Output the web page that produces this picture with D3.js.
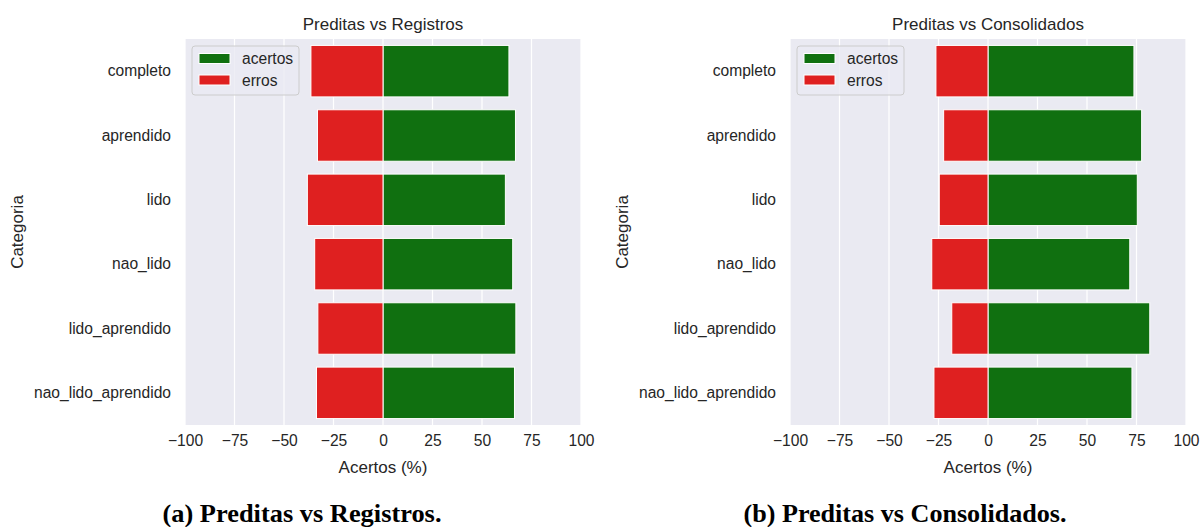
<!DOCTYPE html>
<html>
<head>
<meta charset="utf-8">
<script src="https://cdn.jsdelivr.net/npm/d3@7"></script>
<style>
  html, body { margin: 0; padding: 0; background: #ffffff; }
  svg { display: block; }
  .sans { font-family: "Liberation Sans", Arial, Helvetica, sans-serif; }
  .serif { font-family: "Liberation Serif", "Times New Roman", Times, serif; }
</style>
</head>
<body>
<svg id="fig" width="1200" height="527"></svg>
<script>
// Categories shown on the y axis (top to bottom)
const categorias = ["completo", "aprendido", "lido", "nao_lido", "lido_aprendido", "nao_lido_aprendido"];

// Percent of hits / misses, predictions vs records
const acertosRegistros = [63.6, 66.9, 61.8, 65.5, 67.1, 66.4];
const errosRegistros   = [36.4, 33.1, 38.2, 34.5, 32.9, 33.6];

// Percent of hits / misses, predictions vs consolidated data
const acertosConsolidados = [73.7, 77.6, 75.4, 71.6, 81.7, 72.7];
const errosConsolidados   = [26.3, 22.4, 24.6, 28.4, 18.3, 27.3];

const xTicks = [-100, -75, -50, -25, 0, 25, 50, 75, 100];
const legendLabels = ["acertos", "erros"];

const panels = [
  { title: "Preditas vs Registros", caption: "(a) Preditas vs Registros.",
    acertos: acertosRegistros, erros: errosRegistros,
    left: 185, right: 581, captionX: 302, captionLen: 279 },
  { title: "Preditas vs Consolidados", caption: "(b) Preditas vs Consolidados.",
    acertos: acertosConsolidados, erros: errosConsolidados,
    left: 790, right: 1186, captionX: 905, captionLen: 323 }
];

const COLOR_OK = "#107010";
const COLOR_ERR = "#df2020";
const BG = "#eaeaf2";
const TEXT = "#262626";

const svg = d3.select("#fig");
const plotTop = 39, plotBottom = 425;

const fmt = v => (v < 0 ? "\u2212" + Math.abs(v) : String(v));

panels.forEach(p => {
  const g = svg.append("g").attr("class", "sans");

  const x = d3.scaleLinear().domain([-100, 100]).range([p.left, p.right]);
  const y = d3.scaleBand().domain(categorias).range([plotTop, plotBottom])
    .paddingInner(0.2).paddingOuter(0.1);

  // plot background
  g.append("rect")
    .attr("x", p.left).attr("y", plotTop)
    .attr("width", p.right - p.left).attr("height", plotBottom - plotTop)
    .attr("fill", BG);

  // vertical grid lines
  g.append("g").selectAll("line").data(xTicks).join("line")
    .attr("x1", d => x(d)).attr("x2", d => x(d))
    .attr("y1", plotTop).attr("y2", plotBottom)
    .attr("stroke", "#ffffff").attr("stroke-width", 1.25);

  // hit bars (positive side)
  g.append("g").selectAll("rect").data(categorias).join("rect")
    .attr("x", x(0))
    .attr("y", d => y(d))
    .attr("width", (d, i) => x(p.acertos[i]) - x(0))
    .attr("height", y.bandwidth())
    .attr("fill", COLOR_OK)
    .attr("stroke", "#ffffff").attr("stroke-width", 1);

  // miss bars (negative side)
  g.append("g").selectAll("rect").data(categorias).join("rect")
    .attr("x", (d, i) => x(-p.erros[i]))
    .attr("y", d => y(d))
    .attr("width", (d, i) => x(0) - x(-p.erros[i]))
    .attr("height", y.bandwidth())
    .attr("fill", COLOR_ERR)
    .attr("stroke", "#ffffff").attr("stroke-width", 1);

  // x axis
  const xAxis = d3.axisBottom(x).tickValues(xTicks).tickFormat(fmt).tickSize(0).tickPadding(10);
  const gx = g.append("g").attr("transform", `translate(0,${plotBottom})`).call(xAxis);
  gx.select(".domain").remove();
  gx.attr("font-family", null).attr("font-size", null);
  gx.selectAll("text").style("font-size", "15.6px").attr("fill", TEXT);

  // y axis
  const yAxis = d3.axisLeft(y).tickSize(0).tickPadding(14);
  const gy = g.append("g").attr("transform", `translate(${p.left},0)`).call(yAxis);
  gy.select(".domain").remove();
  gy.attr("font-family", null).attr("font-size", null);
  gy.selectAll("text").style("font-size", "15.6px").attr("fill", TEXT);

  // title
  g.append("text")
    .attr("x", (p.left + p.right) / 2).attr("y", 30)
    .attr("text-anchor", "middle")
    .style("font-size", "17px").attr("fill", TEXT)
    .text(p.title);

  // x label
  g.append("text")
    .attr("x", x(0)).attr("y", 472.5)
    .attr("text-anchor", "middle")
    .style("font-size", "17px").attr("fill", TEXT)
    .text("Acertos (%)");

  // y label
  g.append("text")
    .attr("transform", `translate(${p.left - 162},${(plotTop + plotBottom) / 2}) rotate(-90)`)
    .attr("text-anchor", "middle")
    .style("font-size", "17px").attr("fill", TEXT)
    .text("Categoria");

  // legend
  const lg = g.append("g").attr("transform", `translate(${p.left + 7},46)`);
  lg.append("rect")
    .attr("x", 0).attr("y", 0).attr("width", 107).attr("height", 49)
    .attr("rx", 3).attr("ry", 3)
    .attr("fill", BG).attr("fill-opacity", 0.8)
    .attr("stroke", "#cccccc").attr("stroke-width", 1);
  const colors = [COLOR_OK, COLOR_ERR];
  legendLabels.forEach((lab, i) => {
    lg.append("rect")
      .attr("x", 7).attr("y", 7.5 + i * 21.5)
      .attr("width", 31).attr("height", 10)
      .attr("fill", colors[i]).attr("stroke", "#ffffff").attr("stroke-width", 1);
    lg.append("text")
      .attr("x", 50).attr("y", 18 + i * 21.5)
      .style("font-size", "15.6px").attr("fill", TEXT)
      .text(lab);
  });

  // subfigure caption
  svg.append("text")
    .attr("class", "serif")
    .attr("x", p.captionX).attr("y", 522)
    .attr("text-anchor", "middle")
    .style("font-weight", "bold").style("font-size", "26px").attr("fill", "#000000")
    .attr("textLength", p.captionLen).attr("lengthAdjust", "spacingAndGlyphs")
    .text(p.caption);
});
</script>
</body>
</html>
